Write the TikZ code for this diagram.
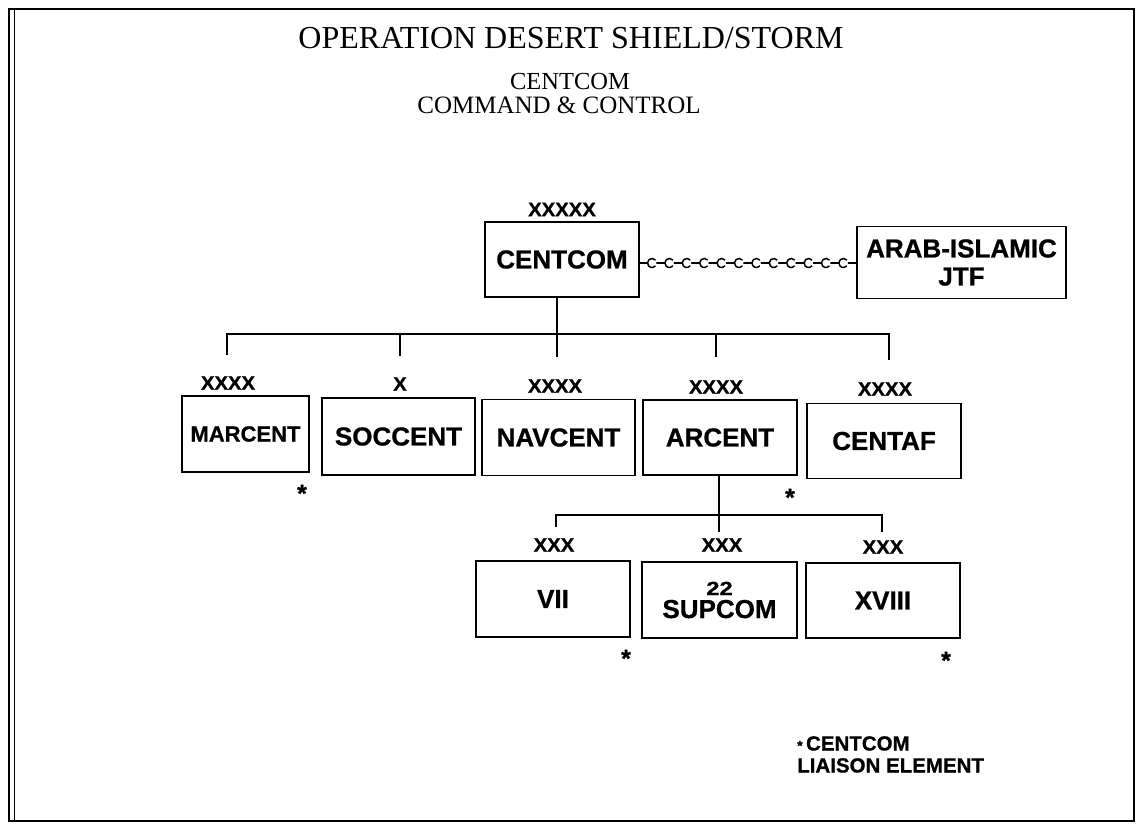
\documentclass[tikz,border=0pt]{standalone}
\usepackage{fontspec}
\setmainfont{Liberation Serif}
\newfontfamily\hv{Liberation Sans}[BoldFeatures={FakeBold=0.8}]
\tikzset{
  unitbox/.style={draw, line width=1.1pt, inner sep=0pt, align=center,
    font=\hv\bfseries\fontsize{26}{28}\selectfont},
  echelon/.style={inner sep=0pt, font=\hv\bfseries\fontsize{19.5}{20}\selectfont},
  star/.style={inner sep=0pt, anchor=base, font=\hv\bfseries\fontsize{25}{25}\selectfont},
  ttl/.style={inner sep=0pt},
  link/.style={line width=1.2pt},
}
\newcommand{\ech}[1]{\scalebox{1.04}[1]{#1}}
\begin{document}
\begin{tikzpicture}[x=1pt,y=-1pt]
\useasboundingbox (0,0) rectangle (1142,829);
% frame
\draw[line width=1.6pt] (9,9) rectangle (1134,821);
\draw[line width=0.9pt] (14,9) -- (14,821);
% titles
\node[ttl] (title) at (571,38) {\fontsize{32}{34}\selectfont OPERATION DESERT SHIELD/STORM};
\node[ttl] (sub1) at (570,82) {\fontsize{24.5}{26}\selectfont CENTCOM};
\node[ttl] (sub2) at (559,105) {\fontsize{25}{27}\selectfont COMMAND \& CONTROL};
% boxes
\node[unitbox, minimum width=154pt, minimum height=75pt] (centcom) at (562,259.5) {CENTCOM};
\node[unitbox, minimum width=209pt, minimum height=72pt] (arab) at (961.5,262.5) {ARAB-ISLAMIC\\JTF};
\node[unitbox, minimum width=127pt, minimum height=76pt, font=\hv\bfseries\fontsize{22}{24}\selectfont] (marcent) at (245.5,434) {MARCENT};
\node[unitbox, minimum width=153pt, minimum height=77pt] (soccent) at (398.5,436.5) {SOCCENT};
\node[unitbox, minimum width=153pt, minimum height=76pt] (navcent) at (558.5,437.5) {NAVCENT};
\node[unitbox, minimum width=154pt, minimum height=75pt] (arcent) at (720,437.5) {ARCENT};
\node[unitbox, minimum width=154pt, minimum height=75pt] (centaf) at (884,441) {CENTAF};
\node[unitbox, minimum width=154pt, minimum height=76pt] (vii) at (553,599) {VII};
\node[unitbox, minimum width=155pt, minimum height=76pt] (supcom) at (719.5,600) {{\fontsize{19}{19}\selectfont\scalebox{1.25}[1]{22}}\\[-5pt]SUPCOM};
\node[unitbox, minimum width=154pt, minimum height=75pt] (xviii) at (883,600.5) {XVIII};
% echelon labels
\node[echelon] (e-centcom) at (562,209.5) {\ech{XXXXX}};
\node[echelon] (e-marcent) at (228,383) {\ech{XXXX}};
\node[echelon] (e-soccent) at (400,384) {\ech{X}};
\node[echelon] (e-navcent) at (555,386) {\ech{XXXX}};
\node[echelon] (e-arcent) at (716,387) {\ech{XXXX}};
\node[echelon] (e-centaf) at (885,389) {\ech{XXXX}};
\node[echelon] (e-vii) at (554,545) {\ech{XXX}};
\node[echelon] (e-supcom) at (722,545) {\ech{XXX}};
\node[echelon] (e-xviii) at (883,547) {\ech{XXX}};
% asterisks
\node[star] (s1) at (302,502) {*};
\node[star] (s2) at (790,506) {*};
\node[star] (s3) at (626,667) {*};
\node[star] (s4) at (946,669) {*};
% footnote
\node[anchor=north west, inner sep=0pt, align=left,
  font=\hv\bfseries\fontsize{20.5}{22}\selectfont] (note) at (797,736)
  {{\fontsize{14}{14}\selectfont *}\,CENTCOM\\LIAISON ELEMENT};
% chain link CENTCOM -- ARAB
\draw[link] (centcom.east |- 0,263) -- (arab.west |- 0,263);
\foreach \i in {0,...,11} {
  \fill[white] (652+\i*17.4,263) circle (4.5pt);
  \draw[line width=1.5pt] (652+\i*17.4,263) ++(40:4.5pt) arc (40:320:4.5pt);
}
% first level bus
\coordinate (bus-l) at (227,334);
\coordinate (bus-r) at (889,334);
\coordinate (c-top) at (557,334);
\coordinate (d1) at (227,355);
\coordinate (d2) at (400,356);
\coordinate (d3) at (557,357);
\coordinate (d4) at (716,357);
\coordinate (d5) at (889,360);
\draw[link] (centcom.south -| c-top) -- (c-top);
\draw[link] (d1) -- (bus-l) -- (bus-r) -- (d5);
\draw[link] (d2 |- bus-l) -- (d2);
\draw[link] (d3 |- bus-l) -- (d3);
\draw[link] (d4 |- bus-l) -- (d4);
% second level bus
\coordinate (bus2-l) at (556,515);
\coordinate (bus2-r) at (882,515);
\coordinate (f1) at (556,527);
\coordinate (f2) at (719,532);
\coordinate (f3) at (882,532);
\draw[link] (arcent.south -| f2) -- (f2);
\draw[link] (f1) -- (bus2-l) -- (bus2-r) -- (f3);
\end{tikzpicture}
\end{document}
